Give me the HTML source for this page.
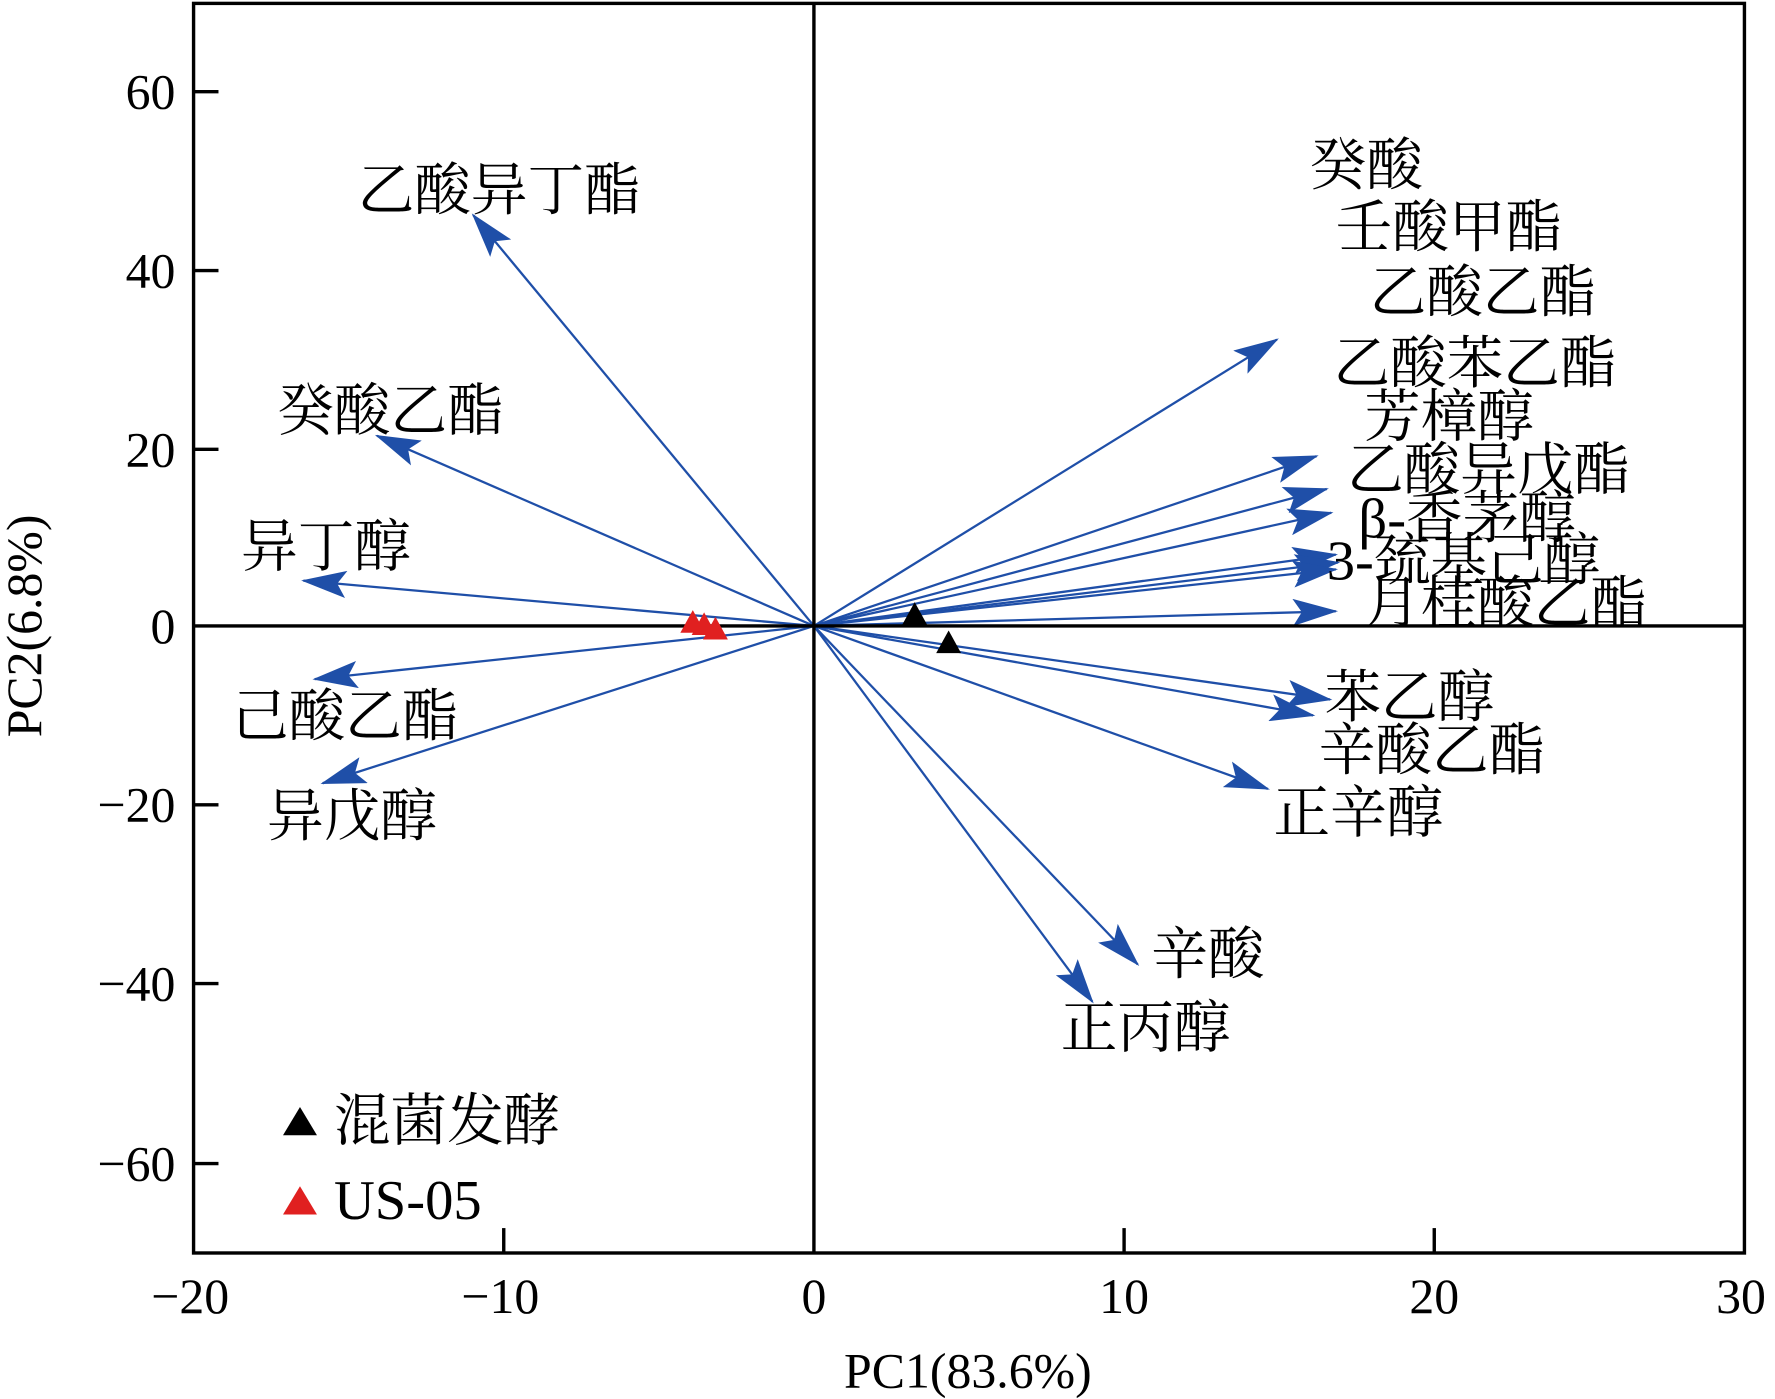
<!DOCTYPE html>
<html><head><meta charset="utf-8"><style>
html,body{margin:0;padding:0;background:#fff;}
svg{display:block;}
text{font-family:"Liberation Serif","Noto Serif CJK SC",serif;fill:#000;}
</style></head><body>
<svg width="1775" height="1399" viewBox="0 0 1568 1236" preserveAspectRatio="none" xmlns="http://www.w3.org/2000/svg">
<defs>
<marker id="ah" markerWidth="40" markerHeight="24" refX="38" refY="12" orient="auto" markerUnits="userSpaceOnUse">
<path d="M0,0 L40,12 L0,24 L8,12 Z" fill="#1f4fa8"/>
</marker>
</defs>
<g stroke="#1f4fa8" stroke-width="2" marker-end="url(#ah)">
<line x1="719" y1="553" x2="418" y2="190"/>
<line x1="719" y1="553" x2="333" y2="385"/>
<line x1="719" y1="553" x2="268" y2="513"/>
<line x1="719" y1="553" x2="278" y2="600"/>
<line x1="719" y1="553" x2="285" y2="692"/>
<line x1="719" y1="553" x2="1128" y2="300"/>
<line x1="719" y1="553" x2="1163" y2="403"/>
<line x1="719" y1="553" x2="1172" y2="432"/>
<line x1="719" y1="553" x2="1176" y2="453"/>
<line x1="719" y1="553" x2="1180" y2="490"/>
<line x1="719" y1="553" x2="1182" y2="497"/>
<line x1="719" y1="553" x2="1180" y2="503"/>
<line x1="719" y1="553" x2="1180" y2="540"/>
<line x1="719" y1="553" x2="1175" y2="618"/>
<line x1="719" y1="553" x2="1160" y2="632"/>
<line x1="719" y1="553" x2="1120" y2="697"/>
<line x1="719" y1="553" x2="1005" y2="852"/>
<line x1="719" y1="553" x2="965" y2="885"/>
</g>
<g stroke="#000" stroke-width="3" fill="none">
<rect x="171" y="3" width="1370" height="1104"/>
<line x1="171" y1="553" x2="1541" y2="553"/>
<line x1="719" y1="3" x2="719" y2="1107"/>
<line x1="171" y1="81" x2="193" y2="81"/>
<line x1="171" y1="239" x2="193" y2="239"/>
<line x1="171" y1="397" x2="193" y2="397"/>
<line x1="171" y1="711" x2="193" y2="711"/>
<line x1="171" y1="869" x2="193" y2="869"/>
<line x1="171" y1="1028" x2="193" y2="1028"/>
<line x1="445" y1="1107" x2="445" y2="1085"/>
<line x1="993" y1="1107" x2="993" y2="1085"/>
<line x1="1267" y1="1107" x2="1267" y2="1085"/>
</g>
<g font-size="44" text-anchor="end">
<text x="155" y="96">60</text><text x="155" y="254">40</text><text x="155" y="412">20</text>
<text x="155" y="568">0</text><text x="155" y="726">−20</text><text x="155" y="884">−40</text><text x="155" y="1043">−60</text>
</g>
<g font-size="44" text-anchor="middle">
<text x="168" y="1160">−20</text><text x="442" y="1160">−10</text><text x="719" y="1160">0</text>
<text x="993" y="1160">10</text><text x="1267" y="1160">20</text><text x="1538" y="1160">30</text>
<text x="855" y="1226">PC1(83.6%)</text>
<text transform="translate(36,553) rotate(-90)">PC2(6.8%)</text>
</g>
<polygon points="808,532 797,552 819,552" fill="#000"/>
<polygon points="838,557 827,577 849,577" fill="#000"/>
<polygon points="612,539 601,559 623,559" fill="#e02020"/>
<polygon points="622,541 611,561 633,561" fill="#e02020"/>
<polygon points="632,545 621,565 643,565" fill="#e02020"/>
<g font-size="50">
<text x="1157" y="163">癸酸</text>
<text x="1180" y="218">壬酸甲酯</text>
<text x="1210" y="275">乙酸乙酯</text>
<text x="1178" y="338">乙酸苯乙酯</text>
<text x="1205" y="385">芳樟醇</text>
<text x="1190" y="432">乙酸异戊酯</text>
<text x="1200" y="475">β-香茅醇</text>
<text x="1172" y="512">3-巯基己醇</text>
<text x="1205" y="550">月桂酸乙酯</text>
<text x="1170" y="633">苯乙醇</text>
<text x="1165" y="680">辛酸乙酯</text>
<text x="1125" y="735">正辛醇</text>
<text x="1017" y="860">辛酸</text>
<text x="937" y="925">正丙醇</text>
<text x="316" y="185">乙酸异丁酯</text>
<text x="245" y="380">癸酸乙酯</text>
<text x="213" y="500">异丁醇</text>
<text x="205" y="650">己酸乙酯</text>
<text x="236" y="738">异戊醇</text>
<text x="295" y="1007">混菌发酵</text>
<text x="295" y="1077">US-05</text>
</g>
<polygon points="265,978 250,1003 280,1003" fill="#000"/>
<polygon points="265,1048 250,1073 280,1073" fill="#e02020"/>
</svg>
</body></html>
